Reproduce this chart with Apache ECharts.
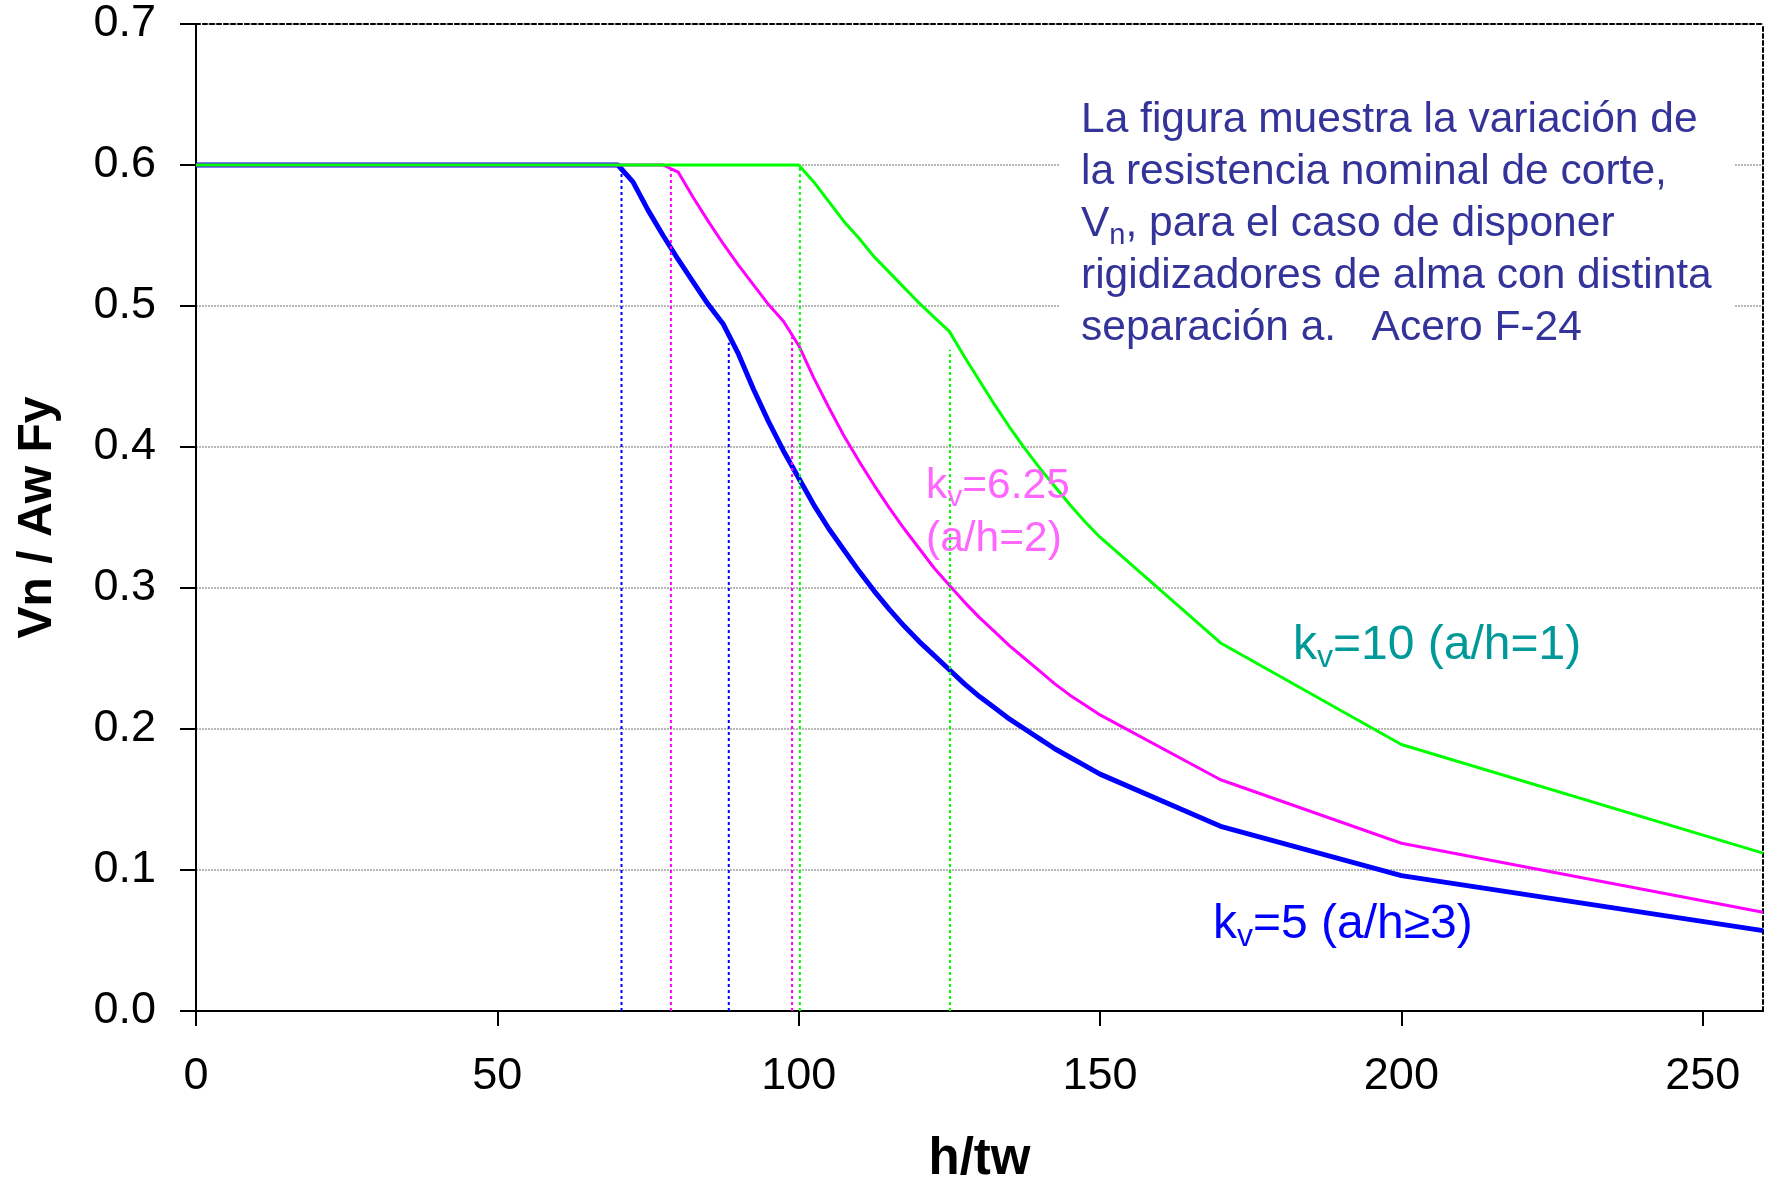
<!DOCTYPE html>
<html>
<head>
<meta charset="utf-8">
<script src="https://cdn.jsdelivr.net/npm/echarts@6/dist/echarts.min.js"></script>
<style>
  html, body { margin: 0; padding: 0; background: #ffffff; }
  #chart { width: 1775px; height: 1177px; }
</style>
</head>
<body>
<div id="chart"></div>
<script>
// Slenderness h/tw (x) shared by the three curves
const hw = [0, 70, 72.5, 75, 77.5, 80, 82.5, 85, 87.5, 90, 92.5, 95, 97.5, 100,
  102.5, 105, 107.5, 110, 112.5, 115, 117.5, 120, 122.5, 125, 127.5, 130, 132.5,
  135, 137.5, 140, 142.5, 145, 147.5, 150, 170, 200, 260];

// Vn / (Aw Fy) for each stiffener spacing
const vnKv5 = [0.600, 0.600, 0.588, 0.568, 0.550, 0.533, 0.517, 0.501, 0.487, 0.466,
  0.441, 0.418, 0.397, 0.378, 0.359, 0.342, 0.327, 0.312, 0.298, 0.285, 0.273, 0.262,
  0.252, 0.242, 0.232, 0.223, 0.215, 0.207, 0.200, 0.193, 0.186, 0.180, 0.174, 0.168,
  0.131, 0.096, 0.057];
const vnKv625 = [0.600, 0.600, 0.600, 0.600, 0.600, 0.595, 0.577, 0.560, 0.544, 0.529,
  0.515, 0.501, 0.489, 0.472, 0.449, 0.428, 0.408, 0.390, 0.373, 0.357, 0.342, 0.328,
  0.314, 0.302, 0.290, 0.279, 0.269, 0.259, 0.250, 0.241, 0.232, 0.224, 0.217, 0.210,
  0.164, 0.119, 0.070];
const vnKv10 = [0.600, 0.600, 0.600, 0.600, 0.600, 0.600, 0.600, 0.600, 0.600, 0.600,
  0.600, 0.600, 0.600, 0.600, 0.588, 0.574, 0.560, 0.548, 0.535, 0.524, 0.513, 0.502,
  0.492, 0.482, 0.464, 0.447, 0.430, 0.414, 0.399, 0.385, 0.372, 0.359, 0.347, 0.336,
  0.261, 0.189, 0.112];

// Limits between yielding / inelastic / elastic buckling (h/tw) and where each drop line ends
const limitsKv5 = [70.6, 88.4];
const limitTopsKv5 = [0.600, 0.474];
const limitsKv625 = [78.8, 98.9];
const limitTopsKv625 = [0.598, 0.478];
const limitsKv10 = [100.2, 125.1];
const limitTopsKv10 = [0.600, 0.469];

// Axis ticks
const xTicks = [0, 50, 100, 150, 200, 250];

const FONT = '"Liberation Sans", Arial, Helvetica, sans-serif';
const BLUE = '#0000ff';
const MAGENTA = '#ff00ff';
const GREEN = '#00ff00';

function pairs(xs, ys) { return xs.map((x, i) => [x, ys[i]]); }

function curve(name, values, color, width) {
  return {
    name: name,
    type: 'line',
    data: pairs(hw, values),
    showSymbol: false,
    symbol: 'none',
    smooth: false,
    lineStyle: { color: color, width: width },
    z: 3,
    silent: true
  };
}

function dropLines(xs, tops, color) {
  return xs.map((x, i) => ({
    type: 'line',
    data: [[x, 0], [x, tops[i]]],
    showSymbol: false,
    symbol: 'none',
    lineStyle: { color: color, width: 2, type: [3, 3] },
    z: 4,
    silent: true
  }));
}

const chart = echarts.init(document.getElementById('chart'), null, { renderer: 'canvas' });

const subRich = (size, lh) => ({ fontSize: size, lineHeight: lh, verticalAlign: 'bottom', fontFamily: FONT });

const option = {
  backgroundColor: '#ffffff',
  animation: false,
  grid: { left: 196, right: 12, top: 24, bottom: 166, containLabel: false, outerBoundsMode: 'none' },
  xAxis: [
    {
      type: 'value', min: 0, max: 260, interval: 50,
      position: 'bottom',
      name: 'h/tw', nameLocation: 'middle', nameGap: 123,
      nameTextStyle: { fontFamily: FONT, fontSize: 51, fontWeight: 'bold', color: '#000' },
      axisLine: { show: true, onZero: false, lineStyle: { color: '#000', width: 2 } },
      axisTick: { show: true, inside: false, length: 15, lineStyle: { color: '#000', width: 2 }, customValues: xTicks },
      axisLabel: { fontFamily: FONT, fontSize: 45, color: '#000', margin: 43, customValues: xTicks },
      splitLine: { show: false }
    },
    {
      type: 'value', min: 0, max: 260, position: 'top',
      axisLine: { show: true, onZero: false, lineStyle: { color: '#000', width: 2, type: [4, 3] } },
      axisTick: { show: false }, axisLabel: { show: false }, splitLine: { show: false }
    }
  ],
  yAxis: [
    {
      type: 'value', min: 0, max: 0.7, interval: 0.1,
      position: 'left',
      name: 'Vn / Aw Fy', nameLocation: 'middle', nameGap: 134, nameRotate: 90,
      nameTextStyle: { fontFamily: FONT, fontSize: 48, fontWeight: 'bold', color: '#000' },
      axisLine: { show: true, onZero: false, lineStyle: { color: '#000', width: 2 } },
      axisTick: { show: true, inside: false, length: 16, lineStyle: { color: '#000', width: 2 } },
      axisLabel: {
        fontFamily: FONT, fontSize: 45, color: '#000', margin: 40,
        formatter: v => v.toFixed(1)
      },
      splitLine: { show: true, lineStyle: { color: '#a0a0a0', width: 1.5, type: [2, 1] } }
    },
    {
      type: 'value', min: 0, max: 0.7, position: 'right',
      axisLine: { show: true, onZero: false, lineStyle: { color: '#000', width: 2, type: [4, 3] } },
      axisTick: { show: false }, axisLabel: { show: false }, splitLine: { show: false }
    }
  ],
  series: [
    curve('kv=5', vnKv5, BLUE, 5),
    curve('kv=6.25', vnKv625, MAGENTA, 3),
    curve('kv=10', vnKv10, GREEN, 3),
    ...dropLines(limitsKv5, limitTopsKv5, BLUE),
    ...dropLines(limitsKv625, limitTopsKv625, MAGENTA),
    ...dropLines(limitsKv10, limitTopsKv10, GREEN)
  ],
  graphic: {
    elements: [
      {
        type: 'rect', z: 1, silent: true,
        shape: { x: 1060, y: 62, width: 674, height: 300 },
        style: { fill: '#ffffff' }
      },
      {
        type: 'text', z: 10, silent: true, x: 1081, y: 94,
        style: {
          text: 'La figura muestra la variación de\n' +
                'la resistencia nominal de corte,\n' +
                'V{s|n}, para el caso de disponer\n' +
                'rigidizadores de alma con distinta\n' +
                'separación a.   Acero F-24',
          fill: '#333399', fontFamily: FONT, fontSize: 42.5, lineHeight: 52,
          textAlign: 'left', textVerticalAlign: 'top',
          rich: { s: subRich(29, 24) }
        }
      },
      {
        type: 'text', z: 10, silent: true, x: 926, y: 460,
        style: {
          text: 'k{s|v}=6.25\n(a/h=2)',
          fill: '#ff66ff', fontFamily: FONT, fontSize: 42.5, lineHeight: 53,
          textAlign: 'left', textVerticalAlign: 'top',
          rich: { s: subRich(30, 26) }
        }
      },
      {
        type: 'text', z: 10, silent: true, x: 1293, y: 618,
        style: {
          text: 'k{s|v}=10 (a/h=1)',
          fill: '#009999', fontFamily: FONT, fontSize: 48, lineHeight: 56,
          textAlign: 'left', textVerticalAlign: 'top',
          rich: { s: subRich(32, 27) }
        }
      },
      {
        type: 'text', z: 10, silent: true, x: 1213, y: 897,
        style: {
          text: 'k{s|v}=5 (a/h≥3)',
          fill: '#0000ff', fontFamily: FONT, fontSize: 48, lineHeight: 56,
          textAlign: 'left', textVerticalAlign: 'top',
          rich: { s: subRich(32, 27) }
        }
      }
    ]
  }
};

chart.setOption(option);
</script>
</body>
</html>
